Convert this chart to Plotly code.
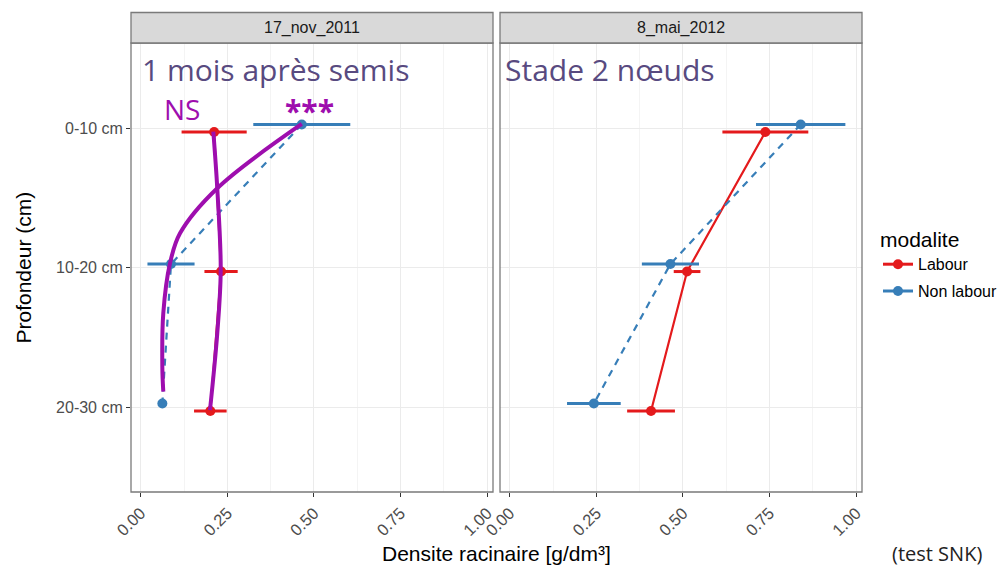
import plotly.graph_objects as go

# ---- data -------------------------------------------------------------
depths = ["0-10 cm", "10-20 cm", "20-30 cm"]
dates = ["17_nov_2011", "8_mai_2012"]
modalites = ["Labour", "Non labour"]

# mean root density [g/dm3] per depth, and half-width of the error bar
labour_nov = [0.212, 0.232, 0.201]
labour_nov_se = [0.094, 0.048, 0.047]
nonlabour_nov = [0.465, 0.0875, 0.0625]
nonlabour_nov_se = [0.140, 0.068, 0.008]

labour_mai = [0.738, 0.512, 0.408]
labour_mai_se = [0.124, 0.0385, 0.069]
nonlabour_mai = [0.840, 0.464, 0.243]
nonlabour_mai_se = [0.129, 0.0825, 0.0775]

x_ticks = [0.0, 0.25, 0.5, 0.75, 1.0]
x_tick_labels = ["0.00", "0.25", "0.50", "0.75", "1.00"]
x_minor = [0.125, 0.375, 0.625, 0.875]

# hand-drawn trend curves (density, depth index) over the first date
curve_nonlabour_x = [0.465, 0.221, 0.1135, 0.0846, 0.0652, 0.0624, 0.0652]
curve_nonlabour_y = [-0.031, 0.430, 0.753, 0.968, 1.326, 1.709, 1.888]
curve_labour_x = [0.2096, 0.221, 0.231, 0.221, 0.200]
curve_labour_y = [0.024, 0.430, 1.016, 1.470, 2.020]

# ---- style ------------------------------------------------------------
RED = "#E41A1C"
BLUE = "#377EB8"
PURPLE = "#9E0EAE"
NOTE = "#584A80"
DODGE = 0.027
FONT = "Liberation Sans, Arial, sans-serif"
NOTE_FONT = "Open Sans, Lato, sans-serif"

depth_idx = list(range(len(depths)))

series = {
    ("17_nov_2011", "Labour"): (labour_nov, labour_nov_se),
    ("17_nov_2011", "Non labour"): (nonlabour_nov, nonlabour_nov_se),
    ("8_mai_2012", "Labour"): (labour_mai, labour_mai_se),
    ("8_mai_2012", "Non labour"): (nonlabour_mai, nonlabour_mai_se),
}
colors = {"Labour": RED, "Non labour": BLUE}
dashes = {"Labour": "solid", "Non labour": "7px,6px"}
offsets = {"Labour": DODGE, "Non labour": -DODGE}

fig = go.Figure()

for k, date in enumerate(dates):
    xa = "x" if k == 0 else "x2"
    ya = "y" if k == 0 else "y2"
    for mod in modalites:
        vals, se = series[(date, mod)]
        ys = [i + offsets[mod] for i in depth_idx]
        fig.add_trace(go.Scatter(
            x=vals, y=ys, xaxis=xa, yaxis=ya, mode="lines",
            line=dict(color=colors[mod], width=2.2, dash=dashes[mod]),
            showlegend=False, hoverinfo="skip"))
        fig.add_trace(go.Scatter(
            x=vals, y=ys, xaxis=xa, yaxis=ya, mode="markers",
            marker=dict(color=colors[mod], size=10),
            error_x=dict(type="data", array=se, symmetric=True,
                         color=colors[mod], thickness=3, width=0),
            showlegend=False, name=mod))

# legend keys
for mod in modalites:
    fig.add_trace(go.Scatter(
        x=[None], y=[None], mode="lines+markers", name=mod, legendgroup=mod,
        line=dict(color=colors[mod], width=3),
        marker=dict(color=colors[mod], size=10)))

# trend curves
for cx, cy in [(curve_nonlabour_x, curve_nonlabour_y),
               (curve_labour_x, curve_labour_y)]:
    fig.add_trace(go.Scatter(
        x=cx, y=cy, xaxis="x", yaxis="y", mode="lines",
        line=dict(color=PURPLE, width=4, shape="spline", smoothing=1.0),
        showlegend=False, hoverinfo="skip"))

# ---- layout -----------------------------------------------------------
X_DOM = [[131 / 998, 493 / 998], [500 / 998, 862 / 998]]
Y_DOM = [1 - 492 / 568, 1 - 43 / 568]
STRIP_TOP = 1 - 12.5 / 568
GRID = "#EBEBEB"
BORDER = "#7A7A7A"

xaxis_common = dict(
    range=[-0.028, 1.017], tickmode="array", tickvals=x_ticks,
    ticktext=x_tick_labels, tickangle=-45, ticks="outside", ticklen=4,
    tickcolor="#333333", tickfont=dict(family=FONT, size=16.5, color="#4D4D4D"),
    showgrid=True, gridcolor=GRID, gridwidth=1.1, zeroline=False,
    showline=False, automargin=False,
    minor=dict(tickvals=x_minor, showgrid=True, gridcolor="#F4F4F4",
               gridwidth=0.6, ticks=""),
)
yaxis_common = dict(
    range=[2.607, -0.611], tickmode="array", tickvals=depth_idx,
    ticktext=depths, showgrid=True, gridcolor=GRID, gridwidth=1.1,
    zeroline=False, showline=False, domain=Y_DOM, automargin=False,
    tickfont=dict(family=FONT, size=16, color="#4D4D4D"),
)

fig.update_layout(
    width=998, height=568,
    margin=dict(l=0, r=0, t=0, b=0, pad=0, autoexpand=False),
    paper_bgcolor="white", plot_bgcolor="white",
    xaxis=dict(domain=X_DOM[0], anchor="y", **xaxis_common),
    xaxis2=dict(domain=X_DOM[1], anchor="y2", **xaxis_common),
    yaxis=dict(anchor="x", ticks="outside", ticklen=4, tickcolor="#333333",
               **yaxis_common),
    yaxis2=dict(anchor="x2", matches="y", showticklabels=False, ticks="",
                **yaxis_common),
    legend=dict(
        x=878 / 998, xanchor="left", y=1 - 220 / 568, yanchor="top",
        title=dict(text="modalite", font=dict(family=FONT, size=21, color="#000")),
        font=dict(family=FONT, size=16, color="#000"),
        itemwidth=30, traceorder="grouped", tracegroupgap=3,
        bgcolor="rgba(0,0,0,0)"),
    showlegend=True,
)

shapes = []
for dom in X_DOM:
    # panel border
    shapes.append(dict(type="rect", xref="paper", yref="paper",
                       x0=dom[0], x1=dom[1], y0=Y_DOM[0], y1=Y_DOM[1],
                       line=dict(color=BORDER, width=1.3), layer="above"))
    # facet strip
    shapes.append(dict(type="rect", xref="paper", yref="paper",
                       x0=dom[0], x1=dom[1], y0=Y_DOM[1], y1=STRIP_TOP,
                       fillcolor="#D9D9D9", line=dict(color=BORDER, width=1.3)))
fig.update_layout(shapes=shapes)

annotations = []
for dom, date in zip(X_DOM, dates):
    annotations.append(dict(
        x=(dom[0] + dom[1]) / 2, y=(Y_DOM[1] + STRIP_TOP) / 2,
        xref="paper", yref="paper", text=date, showarrow=False,
        xanchor="center", yanchor="middle",
        font=dict(family=FONT, size=16, color="#1A1A1A")))

annotations += [
    dict(x=0.5 * (X_DOM[0][0] + X_DOM[1][1]), y=1 - 553 / 568, xref="paper",
         yref="paper", xanchor="center", yanchor="middle",
         text="Densite racinaire [g/dm³]", showarrow=False,
         font=dict(family=FONT, size=21, color="#000")),
    dict(x=23 / 998, y=0.5 * (Y_DOM[0] + Y_DOM[1]), xref="paper", yref="paper",
         xanchor="center", yanchor="middle",
         text="Profondeur (cm)", textangle=-90, showarrow=False,
         font=dict(family=FONT, size=21, color="#000")),
    dict(x=890 / 998, y=1 - 553 / 568, xref="paper", yref="paper",
         xanchor="left", yanchor="middle", text="(test SNK)", showarrow=False,
         font=dict(family=NOTE_FONT, size=20, color="#222")),
    dict(x=0.0, y=-0.42, xref="x", yref="y", xanchor="left", yanchor="middle",
         text="1 mois après semis", showarrow=False, borderpad=0,
         font=dict(family=NOTE_FONT, size=30, color=NOTE)),
    dict(x=-0.017, y=-0.42, xref="x2", yref="y2", xanchor="left",
         yanchor="middle", text="Stade 2 nœuds", showarrow=False, borderpad=0,
         font=dict(family=NOTE_FONT, size=30, color=NOTE)),
    dict(x=0.065, y=-0.14, xref="x", yref="y", xanchor="left",
         yanchor="middle", text="NS", showarrow=False, borderpad=0,
         font=dict(family=NOTE_FONT, size=28, color=PURPLE)),
    dict(x=0.486, y=-0.125, xref="x", yref="y", xanchor="center",
         yanchor="middle", text="<b>***</b>", showarrow=False, borderpad=0,
         font=dict(family=NOTE_FONT, size=30, color=PURPLE)),
]
fig.update_layout(annotations=annotations)

fig.write_html("out.html")
